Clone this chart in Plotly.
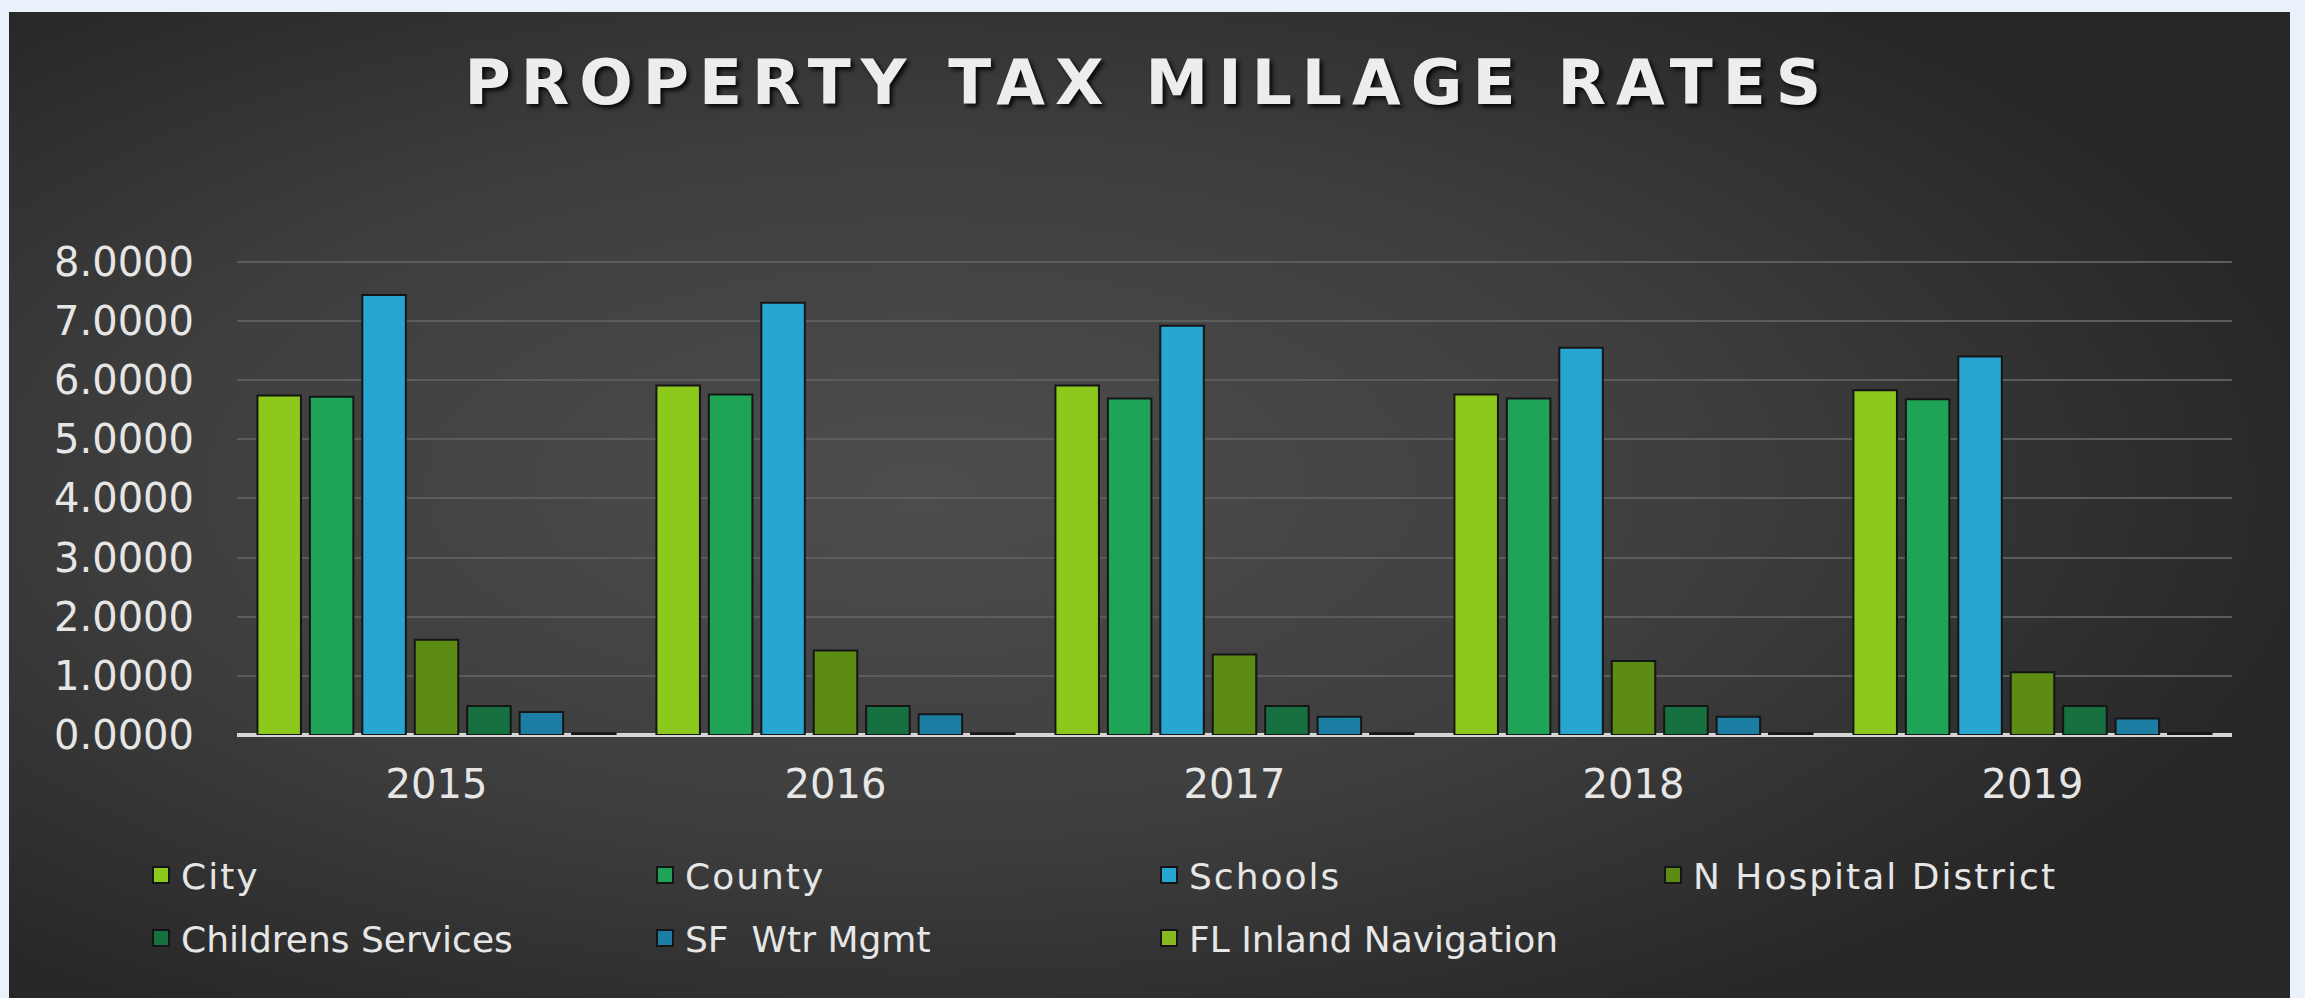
import base64
import plotly.graph_objects as go

years = ['2015', '2016', '2017', '2018', '2019']

city = [5.74, 5.91, 5.91, 5.76, 5.83]
county = [5.72, 5.76, 5.69, 5.69, 5.68]
schools = [7.44, 7.31, 6.92, 6.55, 6.40]
n_hospital = [1.61, 1.43, 1.36, 1.25, 1.06]
childrens = [0.49, 0.49, 0.49, 0.49, 0.49]
sf_wtr = [0.39, 0.35, 0.31, 0.31, 0.28]
fl_inland = [0.03, 0.03, 0.03, 0.03, 0.03]

series_names = ['City', 'County', 'Schools', 'N Hospital District',
                'Childrens Services', 'SF  Wtr Mgmt', 'FL Inland Navigation']
series_values = [city, county, schools, n_hospital, childrens, sf_wtr, fl_inland]
series_colors = ['#8dc81c', '#1fa457', '#28a6d2', '#5d8c15',
                 '#17703f', '#1d7ea3', '#86b81f']

FONT = 'DejaVu Sans'
TEXT_COLOR = '#e6e6e6'
OUTLINE = '#151515'


def panel_background():
    # dark radial gradient behind the chart, as an svg data uri
    svg = ("<svg xmlns='http://www.w3.org/2000/svg' width='2281' height='986'>"
           "<defs><radialGradient id='g' cx='0.40' cy='0.47' r='0.62'>"
           "<stop offset='0' stop-color='#4d4d4d'/>"
           "<stop offset='0.55' stop-color='#3e3e3e'/>"
           "<stop offset='1' stop-color='#272727'/>"
           "</radialGradient></defs>"
           "<rect width='100%' height='100%' fill='url(#g)'/></svg>")
    return 'data:image/svg+xml;base64,' + base64.b64encode(svg.encode()).decode()


fig = go.Figure()
for i, (name, vals, col) in enumerate(zip(series_names, series_values, series_colors)):
    leg = 'legend' if i < 4 else 'legend2'
    fig.add_trace(go.Bar(
        x=years, y=vals, name=name, showlegend=False,
        marker=dict(color=col, line=dict(color=OUTLINE, width=2)),
    ))
    # legend-only entry so the swatch can be bigger than the bar default
    fig.add_trace(go.Scatter(
        x=[None], y=[None], name=name, mode='markers', legend=leg,
        marker=dict(symbol='square', size=16, color=col,
                    line=dict(color=OUTLINE, width=2)),
    ))

# plot area: x 237..2232, 8.0 gridline at y=262, zero at y=735 (pixels)
Y_TOP = 8.05
L, R, B = 237, 73, 263
T = round(262 - (Y_TOP - 8) * 473 / 8)
plot_w = 2305 - L - R
plot_h = 998 - T - B

legend_common = dict(
    orientation='h',
    font=dict(family=FONT, size=36, color=TEXT_COLOR),
    bgcolor='rgba(0,0,0,0)',
    entrywidth=459,
    xanchor='left',
    yanchor='middle',
    x=(141 - L) / plot_w,
)

layout = go.Layout(
    width=2305,
    height=998,
    paper_bgcolor='#e9f2fa',
    plot_bgcolor='rgba(0,0,0,0)',
    margin=dict(l=L, r=R, t=T, b=B),
    barmode='group',
    bargap=0.08,
    bargroupgap=0.17,
    title=dict(text='PROPERTY TAX MILLAGE RATES',
               x=0.498, xanchor='center',
               y=1 - 82 / 998, yanchor='middle',
               font=dict(family=FONT, size=63, weight='bold', color='#ededed',
                         shadow='3px 3px 4px rgba(0,0,0,0.85)')),
    xaxis=dict(type='category', showgrid=False, showline=False, ticks='',
               tickfont=dict(family=FONT, size=40, color=TEXT_COLOR),
               ticklabelstandoff=22),
    yaxis=dict(range=[0, Y_TOP], tickvals=[0, 1, 2, 3, 4, 5, 6, 7, 8],
               tickformat='.4f',
               showgrid=True, gridcolor='#5c5c5c', gridwidth=2,
               zeroline=True, zerolinecolor='#d6d6d6', zerolinewidth=4,
               showline=False, ticks='',
               tickfont=dict(family=FONT, size=40, color=TEXT_COLOR),
               ticklabelstandoff=42),
    legend=dict(legend_common, y=(735 - 875) / plot_h),
    legend2=dict(legend_common, y=(735 - 938) / plot_h),
    images=[dict(source=panel_background(), xref='paper', yref='paper',
                 x=(9 - L) / plot_w, y=(735 - 12) / plot_h,
                 sizex=(2290 - 9) / plot_w, sizey=(998 - 12) / plot_h + 0.05,
                 sizing='stretch', layer='below')],
)
fig.update_layout(layout)

# page css: no body margin, and the wide lettering of the original
page_js = ("var s=document.createElement('style');"
           "s.textContent='body{margin:0}"
           " .gtitle{letter-spacing:10px}"
           " .legendtext{letter-spacing:2px}';"
           "document.head.appendChild(s);")
fig.write_html("out.html", post_script=page_js,
               config={'displayModeBar': False})
